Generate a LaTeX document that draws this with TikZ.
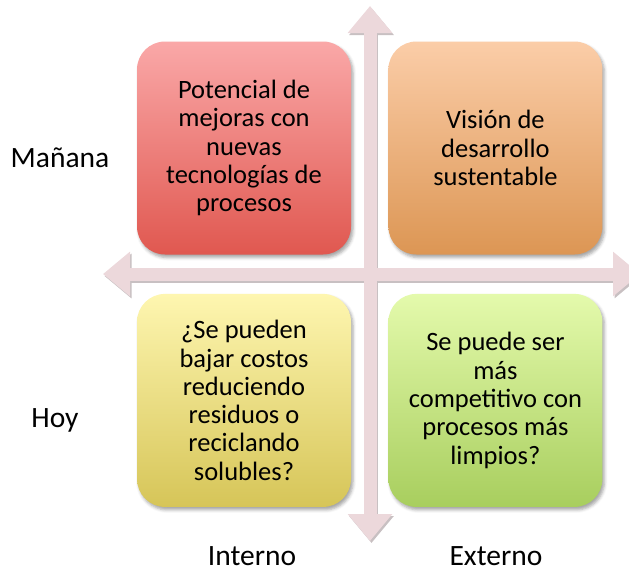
\documentclass[tikz,border=0pt]{standalone}
\usepackage{fontspec}
\setmainfont{Carlito}
\usetikzlibrary{
    arrows.meta,
    positioning,
    shadows.blur
}
\definecolor{axisfill}{RGB}{236,216,219}
\definecolor{axisshade}{RGB}{200,192,194}
\definecolor{redtop}{RGB}{250,168,168}
\definecolor{redbottom}{RGB}{224,88,80}
\definecolor{orangetop}{RGB}{251,205,168}
\definecolor{orangebottom}{RGB}{220,150,84}
\definecolor{yellowtop}{RGB}{254,246,176}
\definecolor{yellowbottom}{RGB}{214,197,88}
\definecolor{greentop}{RGB}{228,250,172}
\definecolor{greenbottom}{RGB}{168,206,94}
\tikzset{
    pop/.style={
        blur shadow={shadow xshift=2pt, shadow yshift=-3pt,
            shadow blur radius=3pt, shadow opacity=35}
    },
    quadrant/.style={
        rectangle,
        rounded corners=28pt,
        minimum width=214pt,
        minimum height=213pt,
        inner sep=0pt,
        align=center,
        font=\fontsize{26.5}{28.3}\selectfont,
        text=black,
        pop
    },
    axislabel/.style={
        anchor=base,
        inner sep=0pt,
        font=\fontsize{29.5}{34}\selectfont,
        text=black
    },
    axis/.style={
        draw=axisfill,
        line width=13pt,
        {Triangle[length=27pt,width=43pt]}-{Triangle[length=27pt,width=43pt]}
    },
    axisshadow/.style={
        axis,
        draw=axisshade,
        transform canvas={shift={(1.5pt,-2pt)}}
    }
}

\begin{document}
\begin{tikzpicture}[x=1pt, y=-1pt]
\useasboundingbox (0,0) rectangle (629,574);

% ends of the two axes
\coordinate (north) at (370,6);
\coordinate (south) at (370,541);
\coordinate (west) at (103,274);
\coordinate (east) at (640,274);

\draw[axisshadow] (north) -- (south);
\draw[axisshadow] (west) -- (east);
\draw[axis] (north) -- (south);
\draw[axis] (west) -- (east);

% quadrants
\node[quadrant, top color=redtop, bottom color=redbottom] (tecno) at (244,148)
    {Potencial de\\mejoras con\\nuevas\\tecnologías de\\procesos};
\node[quadrant, top color=orangetop, bottom color=orangebottom, right=37pt of tecno] (vision)
    {Visión de\\desarrollo\\sustentable};
\node[quadrant, top color=yellowtop, bottom color=yellowbottom, below=39pt of tecno] (costos)
    {¿Se pueden\\bajar costos\\reduciendo\\residuos o\\reciclando\\solubles?};
\node[quadrant, top color=greentop, bottom color=greenbottom, below=39pt of vision] (limpios)
    {Se puede ser\\más\\competitivo con\\procesos más\\limpios?};

% axis labels
\node[axislabel] (manana) at (60,167) {Mañana};
\node[axislabel] (hoy) at (55,427) {Hoy};
\node[axislabel] (interno) at (252,565) {Interno};
\node[axislabel] (externo) at (496,565) {Externo};
\end{tikzpicture}
\end{document}
